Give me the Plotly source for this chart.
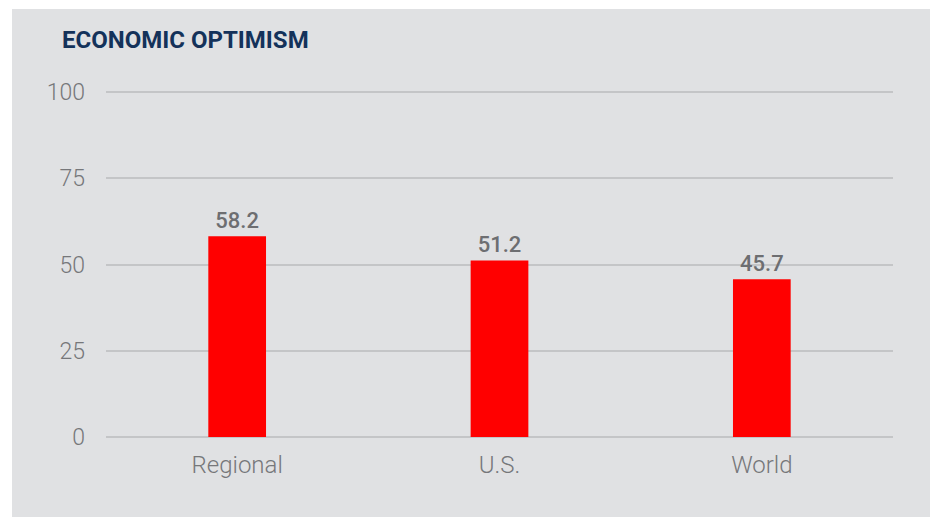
import plotly.graph_objs as go

categories = ['Regional', 'U.S.', 'World']
values = [58.2, 51.2, 45.7]
y_ticks = [0, 25, 50, 75, 100]

panel = '#e0e1e3'
grid = '#c4c5c7'
label_grey = '#76777a'

plot_left, plot_right = 106, 893
plot_top, plot_bottom = 91, 437
pw = plot_right - plot_left
ph = plot_bottom - plot_top

traces = [
    go.Bar(
        x=categories,
        y=values,
        text=[f'{v:.1f}' for v in values],
        textposition='outside',
        cliponaxis=False,
        textfont=dict(family='Roboto', size=22, color='#6d6e71', weight=500),
        marker=dict(color='#ff0000', line=dict(width=0)),
        hoverinfo='x+y',
    )
]

fig = go.Figure(
    data=traces,
    layout=go.Layout(
        width=930,
        height=518,
        margin=dict(l=plot_left, r=930 - plot_right, t=plot_top, b=518 - plot_bottom),
        paper_bgcolor='white',
        plot_bgcolor='rgba(0,0,0,0)',
        bargap=0.78,
        showlegend=False,
        title=dict(
            text='ECONOMIC OPTIMISM',
            font=dict(family='Roboto', size=24, color='#14325a', weight=700),
            xref='container',
            yref='container',
            x=62 / 930,
            xanchor='left',
            y=1 - 40 / 518,
            yanchor='middle',
        ),
        xaxis=dict(
            range=[-0.5, 2.5],
            showgrid=False,
            showline=False,
            zeroline=False,
            ticks='',
            tickfont=dict(family='Roboto', size=24, color=label_grey, weight=300),
            ticklabelstandoff=11,
        ),
        yaxis=dict(
            range=[0, 100.3],
            tickvals=y_ticks,
            showgrid=True,
            gridcolor=grid,
            gridwidth=1.5,
            zeroline=True,
            zerolinecolor=grid,
            zerolinewidth=1.5,
            showline=False,
            ticks='',
            tickfont=dict(family='Roboto', size=23, color=label_grey, weight=300),
            ticklabelstandoff=20,
        ),
        shapes=[
            dict(
                type='rect',
                xref='paper',
                yref='paper',
                layer='below',
                x0=(12 - plot_left) / pw,
                x1=(935 - plot_left) / pw,
                y0=(plot_bottom - 517) / ph,
                y1=(plot_bottom - 9) / ph,
                fillcolor=panel,
                line=dict(width=0),
            )
        ],
    ),
)

# drop the default page margin so the figure sits at the window's corner
fig.write_html(
    'out.html',
    config={'displayModeBar': False},
    post_script="document.body.style.margin = '0';",
)
